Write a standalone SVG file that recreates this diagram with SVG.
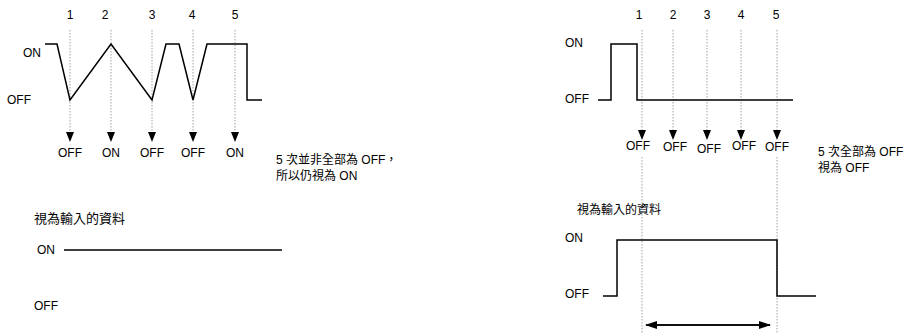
<svg xmlns="http://www.w3.org/2000/svg" width="908" height="333" viewBox="0 0 908 333">
<defs>
<style>
text{font-family:"Liberation Sans","Noto Sans CJK TC",Arial,sans-serif;font-size:12px;fill:#000}
.c{text-anchor:middle}
.wave{fill:none;stroke:#000;stroke-width:1.5;stroke-linejoin:miter}
.dot{fill:none;stroke:#888;stroke-width:0.8;stroke-dasharray:1.5 1.5}
.arr{fill:none;stroke:#000;stroke-width:1.5}
</style>
<marker id="ah" markerWidth="12" markerHeight="8" refX="11" refY="4" orient="auto" markerUnits="userSpaceOnUse">
<path d="M0,0 L12,4 L0,8 Z" fill="#000"/>
</marker>
<path id="tri" d="M-4,0 L4,0 L0,10 Z" fill="#000"/>
</defs>
<g id="left">
<g id="left-numbers">
<text class="c" x="70" y="19">1</text>
<text class="c" x="105" y="19">2</text>
<text class="c" x="152" y="19">3</text>
<text class="c" x="192" y="19">4</text>
<text class="c" x="235" y="19">5</text>
</g>
<g id="left-levels">
<text x="23" y="57">ON</text>
<text x="7" y="104">OFF</text>
</g>
<g id="left-samples">
<path class="dot" d="M70,30V132M111,30V132M152,30V132M193,30V132M235,30V132"/>
<use href="#tri" x="70" y="132"/>
<use href="#tri" x="111" y="132"/>
<use href="#tri" x="152" y="132"/>
<use href="#tri" x="193" y="132"/>
<use href="#tri" x="235" y="132"/>
</g>
<path id="left-wave" class="wave" d="M45,44H57L70,100L111,44L152,100L166,44H179L193,100L207,44H247V100H262"/>
<g id="left-results">
<text class="c" x="70" y="157">OFF</text>
<text class="c" x="111" y="157">ON</text>
<text class="c" x="152" y="157">OFF</text>
<text class="c" x="193" y="157">OFF</text>
<text class="c" x="235" y="157">ON</text>
</g>
<g id="left-note">
<text x="276" y="164">5 次並非全部為 OFF，</text>
<text x="276" y="180">所以仍視為 ON</text>
</g>
<g id="left-input">
<text x="34" y="223" style="font-size:13px">視為輸入的資料</text>
<text x="37" y="254">ON</text>
<text x="34" y="310">OFF</text>
<path class="wave" d="M64,250H282"/>
</g>
</g>
<g id="right">
<g id="right-numbers">
<text class="c" x="639" y="19">1</text>
<text class="c" x="673" y="19">2</text>
<text class="c" x="707" y="19">3</text>
<text class="c" x="741" y="19">4</text>
<text class="c" x="776" y="19">5</text>
</g>
<g id="right-levels">
<text x="565" y="47">ON</text>
<text x="565" y="103">OFF</text>
</g>
<g id="right-samples">
<path class="dot" d="M642,30V130M673,30V130M707,30V130M741,30V130M777,30V130M642,157V333M777,157V333"/>
<use href="#tri" x="642" y="130"/>
<use href="#tri" x="673" y="130"/>
<use href="#tri" x="707" y="130"/>
<use href="#tri" x="741" y="130"/>
<use href="#tri" x="777" y="130"/>
</g>
<path id="right-wave" class="wave" d="M598,100H611V44H637V100H793"/>
<g id="right-results">
<text class="c" x="638" y="150">OFF</text>
<text class="c" x="675" y="151">OFF</text>
<text class="c" x="709" y="153">OFF</text>
<text class="c" x="744" y="150">OFF</text>
<text class="c" x="777" y="151">OFF</text>
</g>
<g id="right-note">
<text x="818" y="156">5 次全部為 OFF，</text>
<text x="818" y="172">視為 OFF</text>
</g>
<g id="right-input">
<text x="577" y="214">視為輸入的資料</text>
<text x="565" y="242">ON</text>
<text x="565" y="298">OFF</text>
<path class="wave" d="M603,296H617V240H777V296H816"/>
</g>
<g id="connectors">
<path class="arr" d="M652,325H770" marker-end="url(#ah)"/>
<path class="arr" d="M770,325H646" marker-end="url(#ah)"/>
</g>
</g>
</svg>
